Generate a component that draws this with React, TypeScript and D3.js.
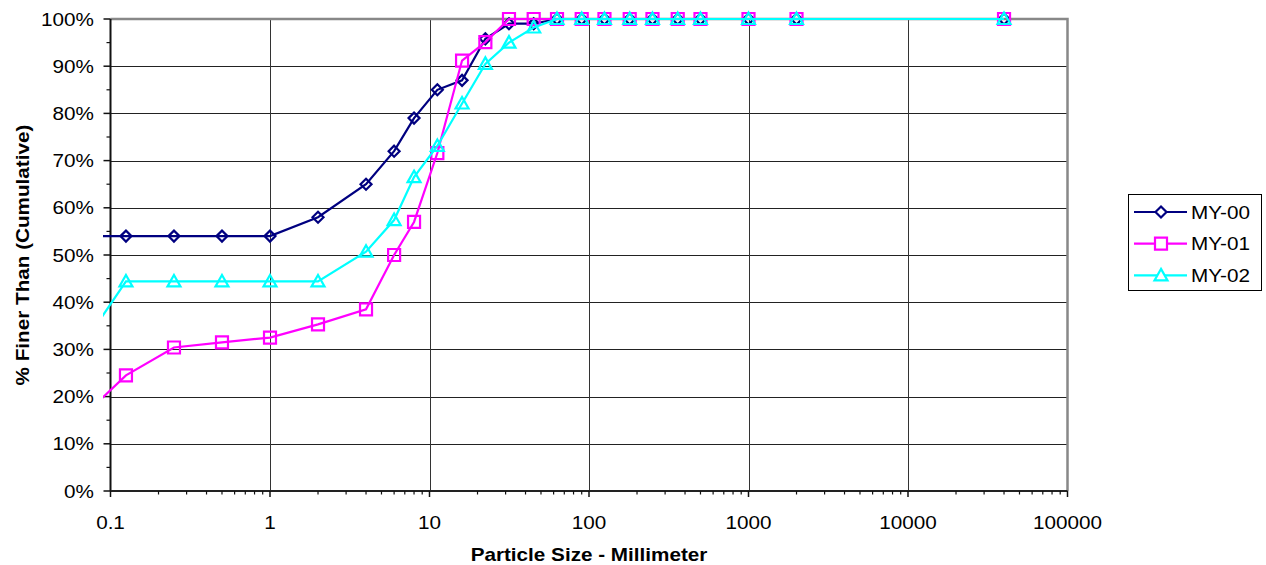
import React from "react";
import * as d3 from "d3";

// sieve sizes (mm) and cumulative % finer for each sample
const sizes = [0.063, 0.125, 0.25, 0.5, 1, 2, 4, 6, 8, 11.2, 16, 22.4, 31.5, 45, 63, 90, 125, 180, 250, 360, 500, 1000, 2000, 40000];
const my00 = [54, 54, 54, 54, 54, 58, 65, 72, 79, 85, 87, 95.8, 99, 99, 100, 100, 100, 100, 100, 100, 100, 100, 100, 100];
const my01 = [14.9, 24.5, 30.4, 31.5, 32.5, 35.3, 38.5, 50, 57, 71.6, 91.2, 95.1, 100, 100, 100, 100, 100, 100, 100, 100, 100, 100, 100, 100];
const my02 = [29.6, 44.4, 44.4, 44.4, 44.4, 44.4, 50.7, 57.4, 66.5, 73.1, 82.1, 90.5, 95, 98.2, 100, 100, 100, 100, 100, 100, 100, 100, 100, 100];

const seriesNames = ["MY-00", "MY-01", "MY-02"];
const xTicks = [0.1, 1, 10, 100, 1000, 10000, 100000];
const xTickLabels = ["0.1", "1", "10", "100", "1000", "10000", "100000"];
const yTicks = [0, 10, 20, 30, 40, 50, 60, 70, 80, 90, 100];
const yTickLabels = ["0%", "10%", "20%", "30%", "40%", "50%", "60%", "70%", "80%", "90%", "100%"];

const W = 1266;
const H = 565;
const left = 110.5;
const right = 1067.5;
const top = 19;
const bottom = 491;
const FONT = "'Liberation Sans', Arial, sans-serif";
const SX = 1.15; // text in the source is a little wide

const colors = ["#000080", "#ff00ff", "#00ffff"];

const marker = (kind: number) => {
  if (kind === 0) return "M0,-5.5L5.5,0L0,5.5L-5.5,0Z";
  if (kind === 1) return "M-6,-6H6V6H-6Z";
  return "M0,-6.5L6.5,5L-6.5,5Z";
};

const Txt = ({ x, y, anchor = "start", size = 18, bold = false, rotate = 0, children }: any) => (
  <text
    transform={`translate(${x},${y})${rotate ? ` rotate(${rotate})` : ""} scale(${SX},1)`}
    textAnchor={anchor}
    fontFamily={FONT}
    fontSize={size}
    fontWeight={bold ? "bold" : "normal"}
    fill="#000"
  >
    {children}
  </text>
);

export default function App() {
  const x = d3.scaleLog().domain([0.1, 100000]).range([left, right]);
  const y = d3.scaleLinear().domain([0, 100]).range([bottom, top]);

  const series = [my00, my01, my02].map((vals) =>
    sizes.map((s, j) => ({ s, v: vals[j] }))
  );
  const line = d3
    .line<{ s: number; v: number }>()
    .x((d) => x(d.s))
    .y((d) => y(d.v));

  const minor: number[] = [];
  for (let e = -1; e < 5; e++) {
    for (let k = 2; k <= 9; k++) minor.push(k * Math.pow(10, e));
  }
  const yMinor = d3.range(5, 100, 10);

  return (
    <svg width={W} height={H} style={{ position: "absolute", left: 0, top: 0, background: "#fff" }}>
      <defs>
        <clipPath id="plotClip">
          <rect x={103} y={0} width={right - 103 + 2} height={bottom + 4} />
        </clipPath>
      </defs>
      <rect width={W} height={H} fill="#fff" />

      {/* grid */}
      {yTicks.slice(1, -1).map((t) => (
        <line key={"gy" + t} x1={left} x2={right} y1={Math.round(y(t)) + 0.5} y2={Math.round(y(t)) + 0.5} stroke="#222" strokeWidth={1} />
      ))}
      {xTicks.slice(1, -1).map((t) => (
        <line key={"gx" + t} x1={Math.round(x(t)) + 0.5} x2={Math.round(x(t)) + 0.5} y1={top} y2={bottom} stroke="#333" strokeWidth={1} />
      ))}

      {/* plot border */}
      <path d={`M${left},${top}H${right}V${bottom}`} fill="none" stroke="#888" strokeWidth={2.5} />

      {/* axes */}
      <line x1={left} x2={left} y1={top} y2={bottom} stroke="#111" strokeWidth={2} />
      <line x1={left} x2={right} y1={bottom} y2={bottom} stroke="#222" strokeWidth={2} />
      {yTicks.map((t) => (
        <line key={"yt" + t} x1={left - 7} x2={left} y1={y(t)} y2={y(t)} stroke="#111" strokeWidth={1.5} />
      ))}
      {yMinor.map((t) => (
        <line key={"ym" + t} x1={left - 4} x2={left} y1={y(t)} y2={y(t)} stroke="#111" strokeWidth={1.2} />
      ))}
      {xTicks.map((t) => (
        <line key={"xt" + t} x1={x(t)} x2={x(t)} y1={bottom} y2={bottom + 6} stroke="#111" strokeWidth={1.5} />
      ))}
      {minor.map((t) => (
        <line key={"xm" + t} x1={x(t)} x2={x(t)} y1={bottom} y2={bottom + 3.5} stroke="#111" strokeWidth={1.2} />
      ))}

      {/* tick labels */}
      {yTicks.map((t, i) => (
        <Txt key={"yl" + t} x={94} y={y(t) + 6.5} anchor="end">
          {yTickLabels[i]}
        </Txt>
      ))}
      {xTicks.map((t, i) => (
        <Txt key={"xl" + t} x={x(t)} y={528.5} anchor="middle">
          {xTickLabels[i]}
        </Txt>
      ))}

      {/* axis titles */}
      <Txt x={589} y={561} anchor="middle" bold>
        Particle Size - Millimeter
      </Txt>
      <Txt x={29} y={255} anchor="middle" bold rotate={-90}>
        % Finer Than (Cumulative)
      </Txt>

      {/* series */}
      <g clipPath="url(#plotClip)">
        {series.map((pts, i) => (
          <g key={"s" + i}>
            <path d={line(pts) || ""} fill="none" stroke={colors[i]} strokeWidth={2.2} />
            {pts.map((p, j) => (
              <path
                key={j}
                d={marker(i)}
                transform={`translate(${x(p.s)},${y(p.v)})`}
                fill="none"
                stroke={colors[i]}
                strokeWidth={2.2}
              />
            ))}
          </g>
        ))}
      </g>

      {/* legend */}
      <rect x={1128.5} y={194.5} width={133} height={96} fill="#fff" stroke="#000" strokeWidth={1} />
      {seriesNames.map((name, i) => {
        const ly = 212 + i * 31.7;
        return (
          <g key={name}>
            <line x1={1134} x2={1187} y1={ly} y2={ly} stroke={colors[i]} strokeWidth={2.2} />
            <path d={marker(i)} transform={`translate(1161,${ly})`} fill="#fff" stroke={colors[i]} strokeWidth={2.2} />
            <Txt x={1191} y={ly + 6.5}>
              {name}
            </Txt>
          </g>
        );
      })}
    </svg>
  );
}
